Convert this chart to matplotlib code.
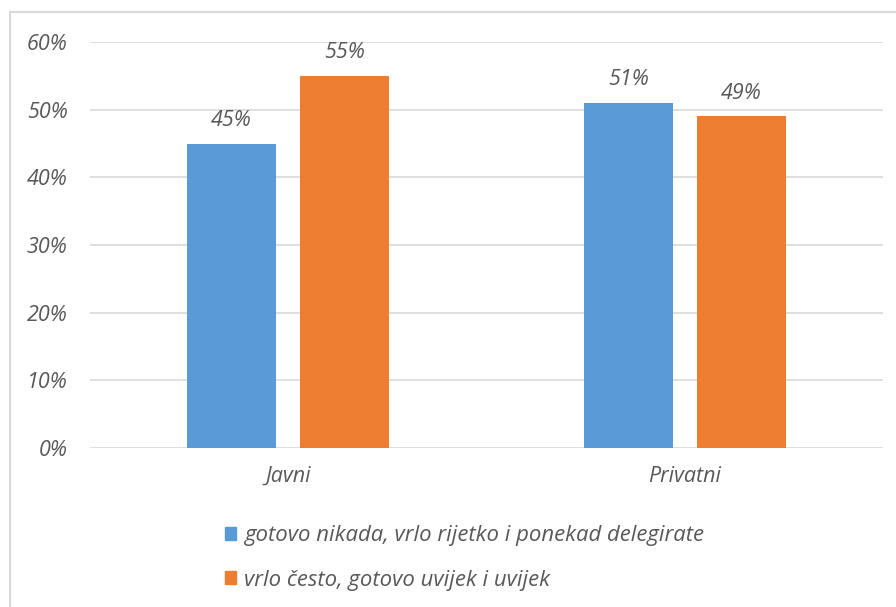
import matplotlib.pyplot as plt
from matplotlib.lines import Line2D
from matplotlib.patches import Patch
import numpy as np

categories = ['Javni', 'Privatni']
rarely = [45, 51]
often = [55, 49]
series_names = ['gotovo nikada, vrlo rijetko i ponekad delegirate',
                'vrlo često, gotovo uvijek i uvijek']
yticks = [0, 10, 20, 30, 40, 50, 60]

blue = '#5B9BD5'
orange = '#ED7D31'
txt = '#595959'

plt.rcParams['font.family'] = ['Open Sans', 'DejaVu Sans']
fs = 15.5

W, H = 896, 607
fig = plt.figure(figsize=(W / 100, H / 100), dpi=100)
ax = fig.add_axes([90 / W, 1 - 448 / H, (883 - 90) / W, (448 - 42) / H])

x = np.arange(len(categories))
bw = 0.2245
off = 0.1425
b1 = ax.bar(x - off, rarely, bw, color=blue, zorder=3)
b2 = ax.bar(x + off, often, bw, color=orange, zorder=3)

for bars in (b1, b2):
    for r in bars:
        ax.annotate(f'{r.get_height():.0f}%', (r.get_x() + r.get_width() / 2, r.get_height()),
                    xytext=(0, 9), textcoords='offset points', ha='center', va='bottom',
                    fontsize=fs, style='italic', color=txt)

ax.set_xlim(-0.5, 1.5)
ax.set_ylim(0, 60)
ax.set_yticks(yticks)
ax.set_yticklabels([f'{v}%' for v in yticks], fontsize=fs, style='italic', color=txt)
ax.set_xticks(x)
ax.set_xticklabels(categories, fontsize=fs, style='italic', color=txt)
ax.tick_params(length=0)
ax.tick_params(axis='y', pad=16)
ax.tick_params(axis='x', pad=13)
ax.grid(axis='y', color='#D9D9D9', linewidth=1.2, zorder=0)
for s in ax.spines.values():
    s.set_visible(False)

# chart frame (only top and left edges are inside the picture)
fig.add_artist(Line2D([9.5 / W, 9.5 / W], [0, 1 - 12 / H], transform=fig.transFigure,
                      color='#D9D9D9', linewidth=1.5))
fig.add_artist(Line2D([9.5 / W, 1], [1 - 12 / H, 1 - 12 / H], transform=fig.transFigure,
                      color='#D9D9D9', linewidth=1.5))

handles = [Patch(color=blue), Patch(color=orange)]
leg = fig.legend(handles, series_names, loc='center left', bbox_to_anchor=(225 / W, 1 - 558 / H),
                 frameon=False, fontsize=15.9, handlelength=0.5, handleheight=0.5,
                 handletextpad=0.35, labelspacing=1.05, borderpad=0, borderaxespad=0)
for t in leg.get_texts():
    t.set_color(txt)
    t.set_style('italic')

fig.savefig('out.png', dpi=100)
